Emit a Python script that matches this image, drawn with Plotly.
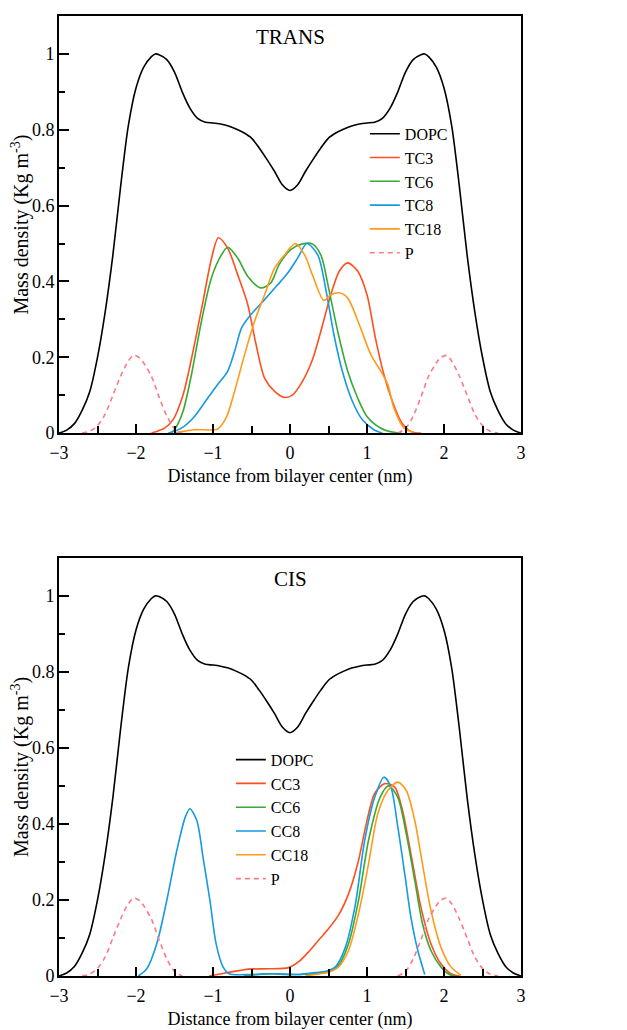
import plotly.graph_objects as go

# DOPC profile (same in both panels)
dopc_x = [-3.0, -2.9, -2.8, -2.7, -2.6, -2.5, -2.4, -2.3, -2.2, -2.1, -2.0, -1.9, -1.8, -1.75, -1.7, -1.6,
          -1.5, -1.4, -1.3, -1.2, -1.1, -1.0, -0.9, -0.8, -0.7, -0.6, -0.5, -0.4, -0.3, -0.2, -0.1, 0.0,
          0.1, 0.2, 0.3, 0.4, 0.5, 0.6, 0.7, 0.8, 0.9, 1.0, 1.1, 1.2, 1.3, 1.4, 1.5, 1.6, 1.7, 1.75,
          1.8, 1.9, 2.0, 2.1, 2.2, 2.3, 2.4, 2.5, 2.6, 2.7, 2.8, 2.9, 3.0]
dopc_y = [0.0, 0.008, 0.025, 0.06, 0.11, 0.20, 0.32, 0.47, 0.65, 0.81, 0.91, 0.965, 0.993, 1.0, 0.998, 0.985,
          0.952, 0.90, 0.857, 0.83, 0.82, 0.818, 0.815, 0.81, 0.802, 0.792, 0.778, 0.752, 0.722, 0.69, 0.655, 0.64,
          0.655, 0.69, 0.722, 0.752, 0.778, 0.792, 0.802, 0.81, 0.815, 0.818, 0.82, 0.83, 0.857, 0.90, 0.952, 0.985, 0.998, 1.0,
          0.993, 0.965, 0.91, 0.81, 0.65, 0.47, 0.32, 0.20, 0.11, 0.06, 0.025, 0.008, 0.0]

# phosphate
p_x = [-2.7, -2.6, -2.5, -2.4, -2.3, -2.2, -2.1, -2.03, -1.95, -1.9, -1.8, -1.7, -1.6, -1.5, -1.4, None,
       1.4, 1.5, 1.6, 1.7, 1.8, 1.9, 1.95, 2.03, 2.1, 2.2, 2.3, 2.4, 2.5, 2.6, 2.7]
p_y = [0.0, 0.005, 0.02, 0.05, 0.10, 0.15, 0.19, 0.205, 0.198, 0.185, 0.15, 0.095, 0.045, 0.012, 0.0, None,
       0.0, 0.012, 0.045, 0.095, 0.15, 0.185, 0.198, 0.205, 0.19, 0.15, 0.10, 0.05, 0.02, 0.005, 0.0]

# TRANS panel
tc3_x = [-1.8, -1.63, -1.52, -1.39, -1.26, -1.13, -1.02, -0.93, -0.81, -0.68, -0.55, -0.44, -0.33, -0.20,
         -0.07, 0.03, 0.16, 0.29, 0.40, 0.53, 0.64, 0.75, 0.88, 1.0, 1.11, 1.22, 1.33, 1.44, 1.57, 1.7]
tc3_y = [0.0, 0.013, 0.035, 0.10, 0.215, 0.347, 0.46, 0.515, 0.488, 0.418, 0.34, 0.233, 0.145, 0.11,
         0.094, 0.10, 0.136, 0.193, 0.268, 0.365, 0.427, 0.449, 0.427, 0.365, 0.25, 0.154, 0.084, 0.031, 0.004, 0.0]

tc6_x = [-1.55, -1.5, -1.39, -1.28, -1.15, -1.02, -0.89, -0.81, -0.68, -0.55, -0.38, -0.25, -0.14, 0.01,
         0.16, 0.29, 0.40, 0.51, 0.62, 0.75, 0.88, 1.0, 1.18, 1.35, 1.45]
tc6_y = [0.0, 0.009, 0.057, 0.154, 0.295, 0.41, 0.47, 0.49, 0.462, 0.414, 0.383, 0.396, 0.445, 0.484,
         0.499, 0.499, 0.47, 0.374, 0.268, 0.163, 0.092, 0.044, 0.013, 0.002, 0.0]

tc8_x = [-1.58, -1.41, -1.24, -1.07, -0.94, -0.81, -0.72, -0.63, -0.51, -0.33, -0.16, -0.03, 0.10, 0.22,
         0.36, 0.47, 0.57, 0.68, 0.81, 0.94, 1.09, 1.2]
tc8_y = [0.0, 0.013, 0.044, 0.092, 0.128, 0.163, 0.215, 0.277, 0.312, 0.352, 0.391, 0.422, 0.462, 0.50,
         0.47, 0.374, 0.26, 0.163, 0.084, 0.035, 0.009, 0.0]

tc18_x = [-1.5, -1.41, -1.24, -0.94, -0.83, -0.72, -0.59, -0.46, -0.33, -0.20, -0.07, 0.07, 0.19, 0.29,
          0.44, 0.53, 0.64, 0.75, 0.90, 1.05, 1.18, 1.27, 1.35, 1.48, 1.61]
tc18_y = [0.0, 0.004, 0.009, 0.011, 0.04, 0.11, 0.207, 0.295, 0.365, 0.435, 0.47, 0.50, 0.47, 0.418,
          0.35, 0.365, 0.37, 0.356, 0.286, 0.207, 0.163, 0.128, 0.066, 0.013, 0.002]

# CIS panel
cc3_x = [-1.05, -0.79, -0.53, -0.27, -0.02, 0.11, 0.24, 0.37, 0.50, 0.63, 0.76, 0.89, 0.99, 1.10, 1.23,
         1.36, 1.46, 1.57, 1.70, 1.83, 1.96, 2.09, 2.2]
cc3_y = [0.0, 0.01, 0.018, 0.019, 0.022, 0.037, 0.063, 0.094, 0.124, 0.16, 0.216, 0.304, 0.40, 0.48, 0.506,
         0.497, 0.436, 0.322, 0.181, 0.085, 0.032, 0.006, 0.0]

cc6_x = [-0.6, -0.3, 0.0, 0.33, 0.50, 0.63, 0.76, 0.89, 1.02, 1.17, 1.28, 1.40, 1.51, 1.62, 1.72, 1.83,
         1.96, 2.07, 2.15]
cc6_y = [0.0, 0.006, 0.004, 0.006, 0.013, 0.028, 0.085, 0.199, 0.357, 0.47, 0.50, 0.47, 0.374, 0.252, 0.138,
         0.067, 0.024, 0.004, 0.0]

cc8_x = [-1.97, -1.86, -1.73, -1.60, -1.47, -1.36, -1.30, -1.21, -1.13, -1.04, -0.96, -0.87, -0.79, -0.5,
         -0.2, 0.1, 0.37, 0.48, 0.59, 0.72, 0.85, 0.97, 1.10, 1.22, 1.31, 1.40, 1.49, 1.57, 1.66, 1.75]
cc8_y = [0.0, 0.019, 0.085, 0.199, 0.33, 0.418, 0.44, 0.409, 0.313, 0.199, 0.085, 0.024, 0.006, 0.004,
         0.006, 0.004, 0.01, 0.013, 0.024, 0.076, 0.19, 0.357, 0.47, 0.523, 0.497, 0.392, 0.269, 0.155, 0.067, 0.004]

cc18_x = [0.2, 0.33, 0.50, 0.63, 0.76, 0.89, 1.02, 1.14, 1.27, 1.40, 1.51, 1.62, 1.72, 1.83, 1.96, 2.09, 2.22]
cc18_y = [0.0, 0.004, 0.01, 0.024, 0.067, 0.164, 0.295, 0.427, 0.488, 0.51, 0.488, 0.409, 0.295, 0.173,
          0.076, 0.024, 0.002]

colors = {"DOPC": "#000000", "C3": "#ff4f20", "C6": "#38a935", "C8": "#169ae0", "C18": "#ff9b1c", "P": "#ff7a88"}
serif = "Liberation Serif, Times New Roman, serif"

fig = go.Figure()

def add(x, y, name, color, xa, ya, legend, dash="solid"):
    fig.add_trace(go.Scatter(
        x=x, y=y, name=name, mode="lines", xaxis=xa, yaxis=ya, legend=legend,
        line=dict(color=color, width=1.6, dash=dash, shape="spline", smoothing=0.8),
        connectgaps=False,
    ))

add(dopc_x, dopc_y, "DOPC", colors["DOPC"], "x", "y", "legend")
add(tc3_x, tc3_y, "TC3", colors["C3"], "x", "y", "legend")
add(tc6_x, tc6_y, "TC6", colors["C6"], "x", "y", "legend")
add(tc8_x, tc8_y, "TC8", colors["C8"], "x", "y", "legend")
add(tc18_x, tc18_y, "TC18", colors["C18"], "x", "y", "legend")
add(p_x, p_y, "P", colors["P"], "x", "y", "legend", dash="5px,4px")

add(dopc_x, dopc_y, "DOPC", colors["DOPC"], "x2", "y2", "legend2")
add(cc3_x, cc3_y, "CC3", colors["C3"], "x2", "y2", "legend2")
add(cc6_x, cc6_y, "CC6", colors["C6"], "x2", "y2", "legend2")
add(cc8_x, cc8_y, "CC8", colors["C8"], "x2", "y2", "legend2")
add(cc18_x, cc18_y, "CC18", colors["C18"], "x2", "y2", "legend2")
add(p_x, p_y, "P", colors["P"], "x2", "y2", "legend2", dash="5px,4px")

xax = dict(
    range=[-3, 3], tickvals=[-3, -2, -1, 0, 1, 2, 3], ticktext=["\u22123", "\u22122", "\u22121", "0", "1", "2", "3"],
    ticks="inside", ticklen=9, tickwidth=1.5, tickcolor="black",
    minor=dict(dtick=0.5, ticks="inside", ticklen=7, tickwidth=1.5, tickcolor="black"),
    showline=True, linecolor="black", linewidth=1.8, mirror=True, showgrid=False, zeroline=False,
    title=dict(text="Distance from bilayer center (nm)", font=dict(size=18), standoff=8),
    tickfont=dict(size=18), ticklabelstandoff=2,
)
yax = dict(
    range=[0, 1.1], tickvals=[0, 0.2, 0.4, 0.6, 0.8, 1], ticktext=["0", "0.2", "0.4", "0.6", "0.8", "1"],
    ticks="inside", ticklen=10, tickwidth=1.5, tickcolor="black",
    minor=dict(dtick=0.1, ticks="inside", ticklen=6, tickwidth=1.5, tickcolor="black"),
    showline=True, linecolor="black", linewidth=1.8, mirror=True, showgrid=False, zeroline=False,
    title=dict(text="Mass density (Kg m<sup>-3</sup>)", font=dict(size=20), standoff=4),
    tickfont=dict(size=18), ticklabelstandoff=-1,
)

legend_style = dict(font=dict(size=16, family=serif), bgcolor="rgba(0,0,0,0)", borderwidth=0,
                    tracegroupgap=0, itemwidth=30, xanchor="left", yanchor="top")

fig.update_layout(
    width=627, height=1030,
    margin=dict(l=49, r=114, t=6, b=62),
    paper_bgcolor="white", plot_bgcolor="white",
    font=dict(family=serif, color="black", size=17),
    xaxis=dict(xax, domain=[0, 1], anchor="y"),
    yaxis=dict(yax, domain=[0.5655, 1], anchor="x"),
    xaxis2=dict(xax, domain=[0, 1], anchor="y2"),
    yaxis2=dict(yax, domain=[0, 0.4356], anchor="x2"),
    legend=dict(legend_style, x=0.662, y=0.895),
    legend2=dict(legend_style, x=0.372, y=0.243),
    annotations=[
        dict(text="TRANS", x=0, y=1.045, xref="x", yref="y", showarrow=False, font=dict(size=21)),
        dict(text="CIS", x=0, y=1.045, xref="x2", yref="y2", showarrow=False, font=dict(size=21)),
    ],
)

fig.write_html("out.html")
